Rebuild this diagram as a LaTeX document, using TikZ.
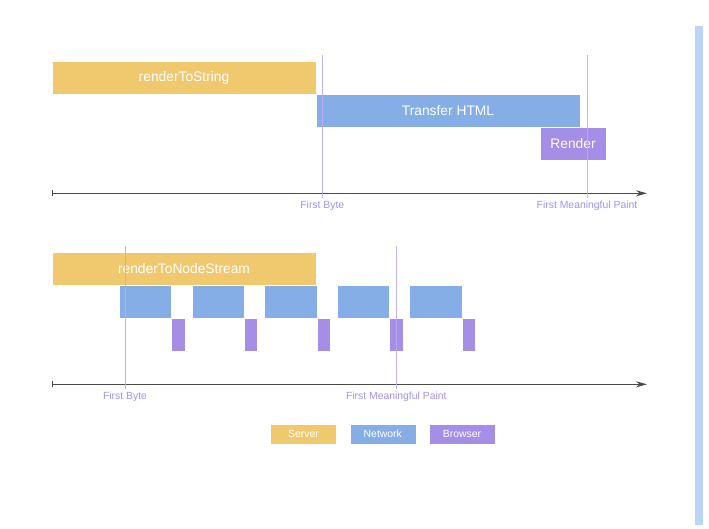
\documentclass[tikz,border=0pt]{standalone}
\usepackage{fontspec}
\setmainfont{Liberation Sans}
\usetikzlibrary{arrows.meta}
\definecolor{server}{HTML}{F0C96F}
\definecolor{network}{HTML}{86AEE6}
\definecolor{browser}{HTML}{A58EE6}
\definecolor{marker}{HTML}{B8ACF6}
\definecolor{markertext}{HTML}{A490F0}
\definecolor{axisgray}{HTML}{4A4A4A}
\definecolor{sidebar}{HTML}{BCD4F8}
\tikzset{
  bar/.style={draw=white, line width=0.5pt, inner sep=0pt, outer sep=0pt,
    text=white, font=\fontsize{13.8}{16}\selectfont},
  chunk/.style={bar, minimum width=52.5pt, minimum height=33pt, fill=network},
  paint/.style={bar, minimum width=13.3pt, minimum height=33pt, fill=browser},
  legendbox/.style={bar, minimum width=66pt, minimum height=20pt,
    font=\fontsize{10.4}{12}\selectfont},
  timeaxis/.style={draw=axisgray, line width=1.1pt,
    {Bar[width=6pt,line width=1.1pt]}-{Stealth[length=11pt,width=6pt]}},
  markerline/.style={draw=marker, line width=1pt, opacity=0.9},
  markerlabel/.style={text=markertext, font=\fontsize{10.4}{12}\selectfont,
    inner sep=0pt},
}
\begin{document}
\begin{tikzpicture}[x=1pt, y=-1pt]
\useasboundingbox (0,0) rectangle (709,528);

% side strip on the right
\fill[sidebar] (695,26) rectangle (703,524.5);

% ---- renderToString timeline ----
\node[bar, fill=server, minimum width=264pt, minimum height=33pt] (rts) at (184,77.5) {renderToString};
\node[bar, fill=network, minimum width=264pt, minimum height=33pt] (xfer) at (448,110.5) {Transfer HTML};
\node[bar, fill=browser, minimum width=66pt, minimum height=33pt] (render) at (573,143.3) {Render};

\coordinate (a1s) at (52,193.3);
\coordinate (a1e) at (647,193.3);
\draw[timeaxis] (a1s) -- (a1e);

\coordinate (fb1top) at (322.3,55);
\coordinate (fb1bot) at (322.3,198);
\draw[markerline] (fb1top) -- (fb1bot);
\node[markerlabel] (fb1) at (322.3,205.5) {First Byte};

\coordinate (fmp1top) at (587,55);
\coordinate (fmp1bot) at (587,198);
\draw[markerline] (fmp1top) -- (fmp1bot);
\node[markerlabel] (fmp1) at (587,205.5) {First Meaningful Paint};

% ---- renderToNodeStream timeline ----
\node[bar, fill=server, minimum width=264pt, minimum height=33pt] (rtns) at (184,268.5) {renderToNodeStream};

\foreach \i/\x in {1/145.4, 2/218.0, 3/290.6, 4/363.2, 5/435.8} {
  \node[chunk] (net\i) at (\x,301.5) {};
  \node[paint] (br\i) at ({\x+26.25+6.65},334.5) {};
}

\coordinate (a2s) at (52,384.3);
\coordinate (a2e) at (647,384.3);
\draw[timeaxis] (a2s) -- (a2e);

\coordinate (fb2top) at (125,246);
\coordinate (fb2bot) at (125,389);
\draw[markerline] (fb2top) -- (fb2bot);
\node[markerlabel] (fb2) at (125,396.5) {First Byte};

\coordinate (fmp2top) at (396.3,246);
\coordinate (fmp2bot) at (396.3,389);
\draw[markerline] (fmp2top) -- (fmp2bot);
\node[markerlabel] (fmp2) at (396.3,396.5) {First Meaningful Paint};

% ---- legend ----
\node[legendbox, fill=server] (lserver) at (303.5,434) {Server};
\node[legendbox, fill=network] (lnetwork) at (382.8,434) {Network};
\node[legendbox, fill=browser] (lbrowser) at (462,434) {Browser};
\end{tikzpicture}
\end{document}
